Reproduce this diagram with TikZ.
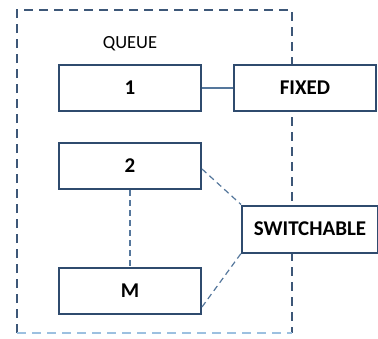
\documentclass[tikz,border=0pt]{standalone}
\usepackage{fontspec}
\setmainfont{Carlito}
\begin{document}
\begin{tikzpicture}[x=1pt,y=-1pt,
  box/.style={draw=boxcol,line width=2pt,fill=white,minimum height=46pt,inner sep=0pt,font=\bfseries\fontsize{21}{21}\selectfont,text=black},
  link/.style={draw=linkcol,line width=1.2pt},
  dlink/.style={link,dash pattern=on 6pt off 4pt}]
\definecolor{boxcol}{HTML}{2F4B6E}
\definecolor{linkcol}{HTML}{55779C}
\definecolor{frame}{HTML}{3D5778}
\definecolor{framelight}{HTML}{9CC0E0}
\useasboundingbox (0,0) rectangle (378,338);
\draw[frame,line width=2pt,dash pattern=on 9pt off 6pt] (17,333) -- (17,10) -- (292,10) -- (292,333);
\draw[framelight,line width=2pt,dash pattern=on 9pt off 6pt] (17,333) -- (292,333);
\node[font=\fontsize{18.5}{18.5}\selectfont] (q) at (130,44) {QUEUE};
\node[box,minimum width=142pt] (b1) at (130,88) {1};
\node[box,minimum width=142pt] (b2) at (130,166) {2};
\node[box,minimum width=142pt] (bm) at (130,291) {M};
\node[box,minimum width=142pt] (fx) at (305,88) {FIXED};
\node[box,minimum width=136pt,minimum height=47pt] (sw) at (310,229) {SWITCHABLE};
\draw[link] (b1.east) -- (fx.west);
\draw[dlink] (b2.south) -- (bm.north);
\draw[dlink] ([yshift=-3pt]b2.east) -- (sw.north west);
\draw[dlink] ([yshift=-16pt]bm.east) -- (sw.south west);
\end{tikzpicture}
\end{document}
